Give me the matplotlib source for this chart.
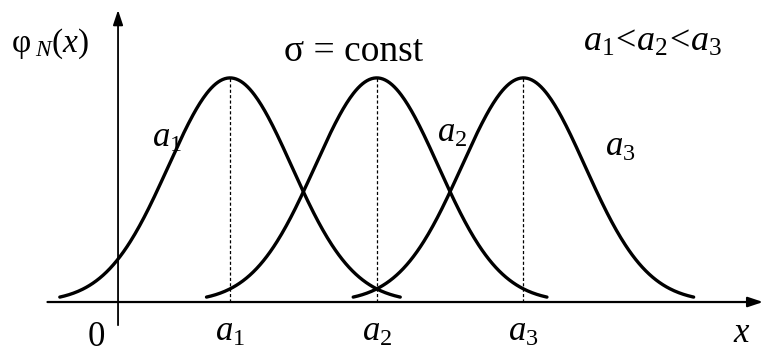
import numpy as np
import matplotlib
matplotlib.use("Agg")
import matplotlib.pyplot as plt

plt.rcParams["font.family"] = "Liberation Serif"
plt.rcParams["mathtext.fontset"] = "custom"
plt.rcParams["mathtext.rm"] = "Liberation Serif"
plt.rcParams["mathtext.it"] = "Liberation Serif:italic"

# means of the three normal densities, common sigma
means = [1.0, 2.31, 3.62]
sigma = 0.55
half_width = 1.52          # each curve is drawn over mean +/- half_width
mean_labels = ["$a_1$", "$a_2$", "$a_3$"]
curve_label_pos = [(0.3, 0.53), (2.85, 0.545), (4.35, 0.50)]


def normal_pdf(x, a, s):
    return np.exp(-(x - a) ** 2 / (2 * s ** 2)) / (s * np.sqrt(2 * np.pi))


fig = plt.figure(figsize=(7.67, 3.55), dpi=100)
ax = fig.add_axes([0, 0, 1, 1])
ax.set_xlim(-1.054, 5.795)
ax.set_ylim(-0.1715, 0.9775)
ax.axis("off")

# axes with arrow heads
ax.annotate("", xy=(5.76, 0), xytext=(-0.63, 0),
            arrowprops=dict(arrowstyle="-|>,head_length=0.9,head_width=0.3",
                            color="black", lw=1.6, shrinkA=0, shrinkB=0))
ax.annotate("", xy=(0, 0.945), xytext=(0, -0.075),
            arrowprops=dict(arrowstyle="-|>,head_length=0.9,head_width=0.3",
                            color="black", lw=1.3, shrinkA=0, shrinkB=0))

for a, lab, (lx, ly) in zip(means, mean_labels, curve_label_pos):
    xs = np.linspace(a - half_width, a + half_width, 300)
    ax.plot(xs, normal_pdf(xs, a, sigma), color="black", lw=2.4,
            solid_capstyle="round")
    ax.plot([a, a], [0, normal_pdf(a, a, sigma)], color="black", lw=0.9,
            linestyle=(0, (2.5, 1.8)))
    ax.text(a, -0.045, lab, fontsize=25, ha="center", va="top")
    ax.text(lx, ly, lab, fontsize=25, ha="left", va="center")

ax.text(-0.19, -0.062, "0", fontsize=25, ha="center", va="top")
ax.text(5.57, -0.05, "$x$", fontsize=25, ha="center", va="top")

ax.text(-0.96, 0.835, r"$\mathrm{\varphi}_{\;\mathit{N}}(x)$", fontsize=24,
        ha="left", va="center")
ax.text(2.1, 0.81, "σ = const", fontsize=27, ha="center", va="center")
ax.text(4.15, 0.84, "$a_1\\!<\\!a_2\\!<\\!a_3$", fontsize=26, ha="left",
        va="center")

fig.savefig("out.png", dpi=100)
